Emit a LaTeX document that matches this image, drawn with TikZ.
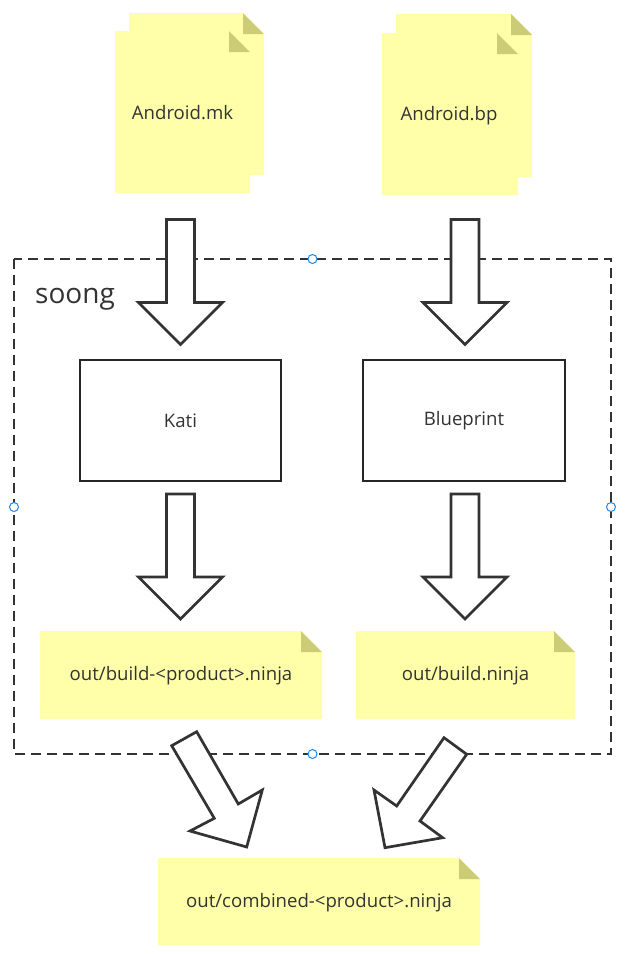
\documentclass[tikz,border=0pt]{standalone}
\usepackage{fontspec}
\setmainfont{Open Sans}
\definecolor{notec}{RGB}{255,255,170}
\definecolor{foldc}{RGB}{204,204,119}
\definecolor{txtc}{RGB}{51,51,51}
\definecolor{linec}{RGB}{51,51,51}
\definecolor{handlec}{RGB}{30,136,229}
\tikzset{
  txt/.style={text=txtc, font=\fontsize{18.6}{22}\selectfont, inner sep=0pt},
  barrowst/.style={fill=white, draw=linec, line width=2.7pt, line join=miter},
  procbox/.style={draw=black!85, line width=2.7pt, fill=white, text=txtc, font=\fontsize{18.6}{22}\selectfont},
  groupbox/.style={draw=linec, line width=2.6pt, dash pattern=on 10pt off 6pt},
  handle/.style={circle, draw=handlec, fill=white, line width=1pt, minimum size=9pt, inner sep=0pt},
}
% note shape: #1 x1, #2 y1, #3 x2, #4 y2
\newcommand{\notepage}[4]{%
  \fill[notec] (#1,#2) -- ({#3-21},#2) -- (#3,{#2+21}) -- (#3,#4) -- (#1,#4) -- cycle;
  \fill[foldc] ({#3-21},#2) -- ({#3-21},{#2+21}) -- (#3,{#2+21}) -- cycle;
}
% vertical block arrow: #1 center x, #2 top y
\newcommand{\downarrowblk}[2]{%
  \draw[barrowst] ({#1-14},#2) -- ({#1+14},#2) -- ({#1+14},{#2+83}) -- ({#1+42},{#2+83})
    -- (#1,{#2+125}) -- ({#1-42},{#2+83}) -- ({#1-14},{#2+83}) -- cycle;
}
\begin{document}
\begin{tikzpicture}[x=1pt,y=-1pt]
\useasboundingbox (0,0) rectangle (629,954);

% source files (stacked pages)
\notepage{129}{13}{264}{175}
\notepage{115}{31}{250}{193}
\node[txt] (mk) at (182.5,113) {Android.mk};
\notepage{396}{14}{532}{177}
\notepage{382}{33}{518}{195}
\node[txt] (bp) at (449,116) {Android.bp};

% soong group
\draw[groupbox] (14,259) rectangle (611,754);
\node[text=txtc, font=\fontsize{28}{32}\selectfont, anchor=west, inner sep=0pt] (soong) at (35,299) {soong};

% processing boxes
\node[procbox, minimum width=201pt, minimum height=121pt] (kati) at (180.5,420.5) {Kati};
\node[procbox, minimum width=202pt, minimum height=121pt] (blueprint) at (464,420.5) {Blueprint};

% outputs
\notepage{40}{631}{322}{719}
\node[txt] (bk) at (181,676) {out/build-<product>.ninja};
\notepage{356}{631}{575}{719}
\node[txt] (bn) at (465.5,676) {out/build.ninja};
\notepage{158}{858}{480}{945}
\node[txt] (comb) at (319,903) {out/combined-<product>.ninja};

% block arrows
\downarrowblk{180.5}{219.5}
\downarrowblk{465}{219.5}
\downarrowblk{180.5}{494}
\downarrowblk{465}{494}

% diagonal block arrows
\draw[barrowst] (171.7,745.7) -- (196.7,731.7) -- (238.3,804) -- (262.3,790) -- (246.7,847) -- (190,831) -- (214.3,818.3) -- cycle;
\draw[barrowst] (444,737.7) -- (466.7,754.3) -- (420,821) -- (442.7,837.7) -- (385,847.7) -- (374,790) -- (396.7,806) -- cycle;

% selection handles
\node[handle] (h1) at (312.5,259) {};
\node[handle] (h2) at (14,507) {};
\node[handle] (h3) at (611,507) {};
\node[handle] (h4) at (312.5,754) {};
\end{tikzpicture}
\end{document}
